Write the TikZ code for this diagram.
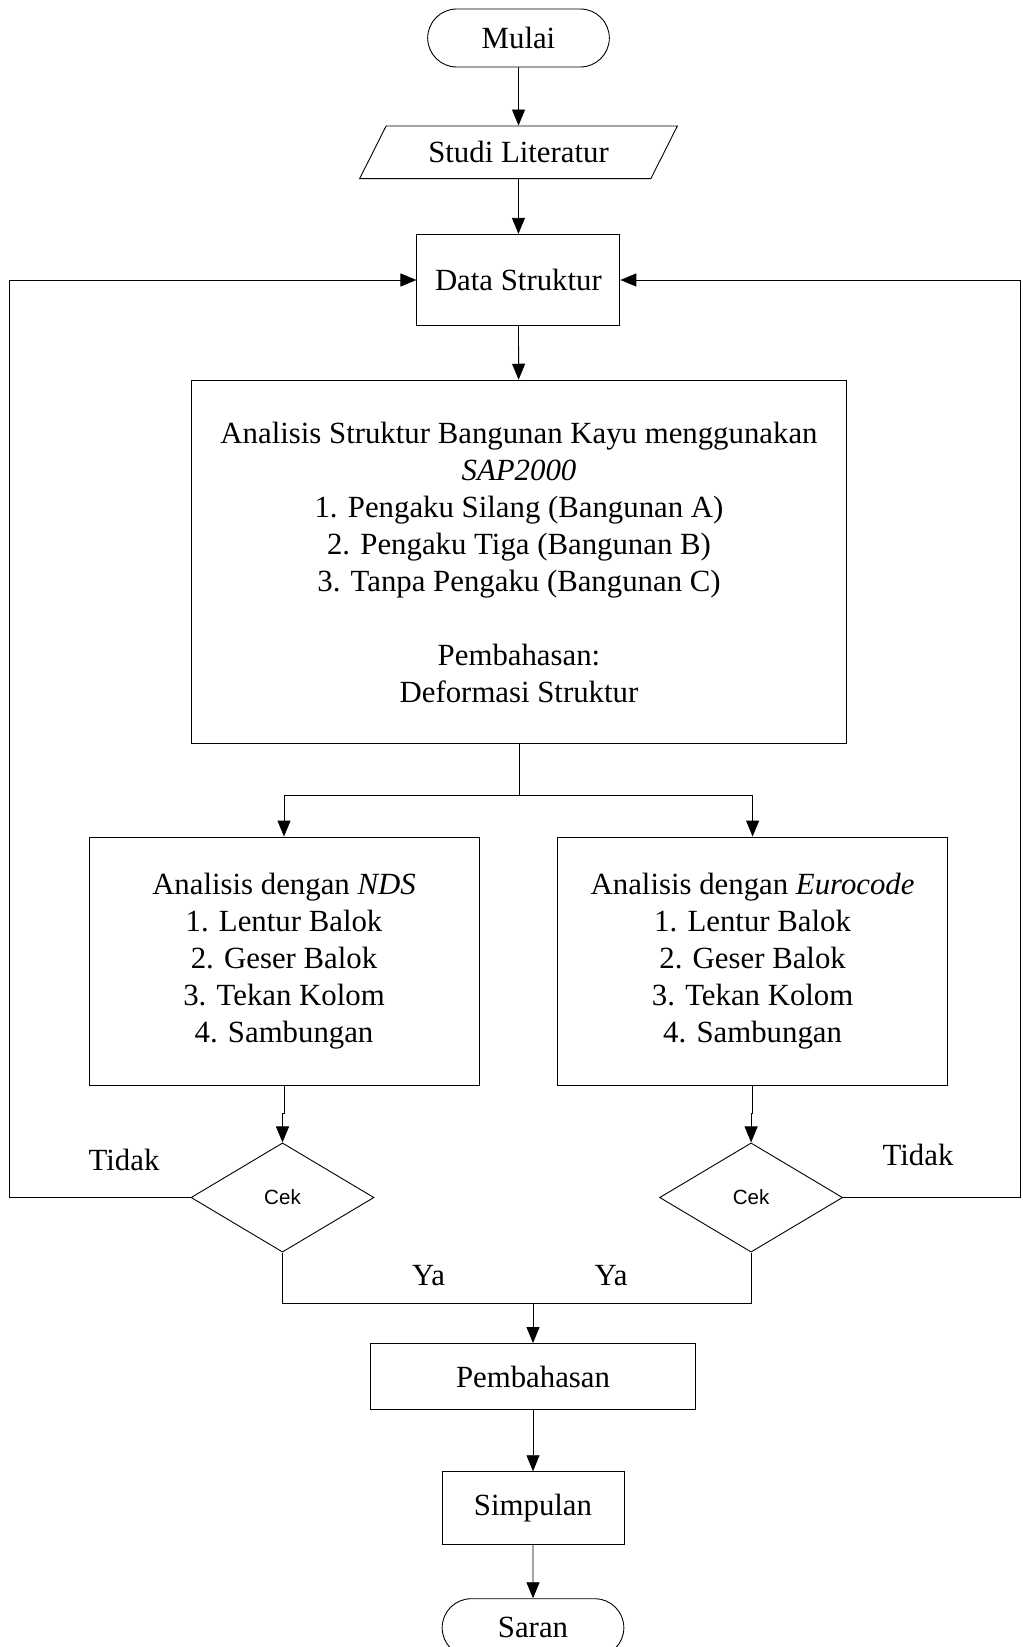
\documentclass[tikz,border=0pt]{standalone}
\usepackage{fontspec}
\setmainfont{Liberation Serif}
\newfontfamily\cekfont{Liberation Sans}
\usetikzlibrary{shapes.geometric, shapes.misc, arrows.meta}

\begin{document}
\begin{tikzpicture}[x=0.5pt, y=-0.5pt, line width=0.45pt,
          font=\fontsize{15.4}{18.5}\selectfont,
          start stop/.style={rounded rectangle, draw, minimum width=97.5pt, minimum height=29pt},
          io box/.style={trapezium, trapezium left angle=61, trapezium right angle=119,
                         trapezium stretches=true, draw, minimum width=159pt, minimum height=26.3pt},
          proc box/.style={rectangle, draw, align=center},
          decision/.style={diamond, draw, aspect=1.67, inner sep=0pt, minimum width=91.5pt,
                           minimum height=54.6pt, font=\cekfont\fontsize{10.3}{12}\selectfont},
          arr/.style={-{Triangle[length=8pt, width=6.5pt]}}]
          \useasboundingbox (0,0) rectangle (1022,1647);
          \node[start stop] (mulai) at (518.5,38) {Mulai};
          \node[io box] (studi) at (518.5,152.3) {Studi Literatur};
          \node[proc box, minimum width=101.5pt, minimum height=45.7pt] (data) at (518.4,280) {Data Struktur};
          \node[proc box, minimum width=327.7pt, minimum height=181.8pt] (analisis) at (519,562)
              {Analisis Struktur Bangunan Kayu menggunakan\\ \textit{SAP2000}\\
               1. Pengaku Silang (Bangunan A)\\ 2. Pengaku Tiga (Bangunan B)\\
               3. Tanpa Pengaku (Bangunan C)\\[18.5pt] Pembahasan:\\ Deformasi Struktur};
          \draw[arr] (mulai) -- (studi);
          \draw[arr] (studi) -- (data);
          \draw[arr] (data) -- (analisis);
          \coordinate (split) at (519,795.2);
          \coordinate (merge) at (533,1303.6);
          \draw (analisis.south) -- (split);
          \foreach \nm/\xx/\std in {nds/284/NDS, euro/752.6/Eurocode}{
              \node[proc box, minimum width=195pt, minimum height=124pt] (\nm) at (\xx,961)
                  {Analisis dengan \textit{\std}\\ 1. Lentur Balok\\ 2. Geser Balok\\ 3. Tekan Kolom\\ 4. Sambungan};
              \node[decision] (cek\nm) at (\xx-1.5,1197.5) {Cek};
              \draw[arr] (split) -| (\nm.north);
              \draw[arr] (\nm.south) -- ++(0,28) -| (cek\nm.north);
              \draw (cek\nm.south) |- (merge);
          }
          % kembali ke data struktur
          \coordinate (back left) at (9.5,1197.5);
          \coordinate (back right) at (1020,1197.5);
          \draw[arr] (ceknds.west) -- (back left) |- (data.west);
          \draw[arr] (cekeuro.east) -- (back right) |- (data.east);
          \node (tidak kiri) at (124,1160) {Tidak};
          \node (tidak kanan) at (918,1155.4) {Tidak};
          \node (ya kiri) at (428.6,1276) {Ya};
          \node (ya kanan) at (611,1276) {Ya};
          \node[proc box, minimum width=162.3pt, minimum height=33pt] (pemb) at (533,1376.5) {Pembahasan};
          \node[proc box, minimum width=91pt, minimum height=36.3pt] (simp) at (533,1508) {Simpulan};
          \node[start stop] (saran) at (533,1627.7) {Saran};
          \draw[arr] (merge) -- (pemb);
          \draw[arr] (pemb) -- (simp);
          \draw[arr] (simp) -- (saran);
      \end{tikzpicture}
\end{document}
